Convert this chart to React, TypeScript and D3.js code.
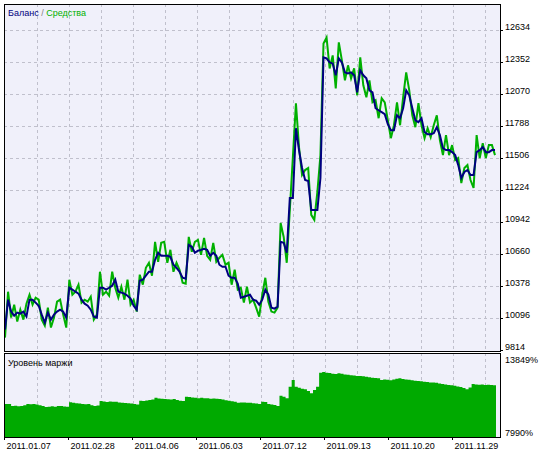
import React from "react";
import * as d3 from "d3";

const balance = [
  9998, 10262, 10157, 10121, 10148, 10139, 10157, 10113, 10262, 10262,
  10236, 10209, 10130, 10060, 10148, 10086, 10130, 10157, 10174, 10157,
  10104, 10367, 10350, 10332, 10315, 10262, 10227, 10209, 10174, 10113,
  10104, 10367, 10367, 10350, 10367, 10385, 10438, 10332, 10324, 10315,
  10297, 10271, 10209, 10174, 10429, 10438, 10473, 10508, 10508, 10613,
  10675, 10649, 10649, 10649, 10640, 10570, 10543, 10508, 10455, 10447,
  10745, 10728, 10675, 10693, 10701, 10710, 10701, 10649, 10675, 10649,
  10570, 10552, 10552, 10473, 10455, 10455, 10403, 10280, 10288, 10297,
  10306, 10262, 10253, 10218, 10262, 10350, 10306, 10192, 10183, 10201,
  10772, 10763, 10675, 11158, 11158, 11773, 11580, 11422, 11316, 11307,
  11053, 11053, 11053, 11334, 12397, 12388, 12353, 12344, 12239, 12388,
  12353, 12265, 12256, 12265, 12239, 12089, 12283, 12239, 12212, 12107,
  12089, 11949, 11931, 11914, 11896, 11808, 11755, 11755, 11887, 11861,
  11949, 12107, 12063, 11949, 11843, 11826, 11861, 11738, 11720, 11720,
  11729, 11782, 11712, 11597, 11580, 11580, 11562, 11536, 11448, 11334,
  11387, 11404, 11360, 11360, 11562, 11580, 11606, 11562, 11562, 11580,
  11580,
];

const equity = [
  9928, 10332, 10104, 10218, 10069, 10174, 10086, 10227, 10306, 10218,
  10280, 10262, 10086, 10034, 10192, 10016, 10104, 10244, 10262, 10130,
  10016, 10438, 10306, 10332, 10394, 10236, 10262, 10244, 10288, 10086,
  10130, 10508, 10306, 10332, 10297, 10508, 10367, 10280, 10376, 10262,
  10438, 10218, 10262, 10157, 10482, 10394, 10543, 10587, 10473, 10772,
  10596, 10763, 10772, 10587, 10701, 10508, 10587, 10526, 10411, 10403,
  10815, 10684, 10772, 10789, 10657, 10807, 10649, 10613, 10763, 10596,
  10631, 10657, 10570, 10587, 10394, 10526, 10350, 10367, 10236, 10376,
  10236, 10262, 10192, 10113, 10306, 10455, 10244, 10157, 10148, 10192,
  10938, 10815, 10587, 11053, 11518, 11993, 11606, 11360, 11404, 11422,
  11009, 10965, 11211, 11536, 12520, 12572, 12300, 12414, 12124, 12529,
  12370, 12195, 12327, 12212, 12300, 12063, 12397, 12151, 12045, 12195,
  12001, 12019, 11861, 12037, 12001, 11843, 11685, 11799, 12001, 11799,
  12045, 12265, 12107, 11887, 11782, 11993, 11799, 11685, 11773, 11694,
  11799, 11887, 11668, 11536, 11712, 11536, 11624, 11492, 11510, 11290,
  11422, 11448, 11316, 11246, 11712, 11510, 11641, 11510, 11624, 11624,
  11536,
];

const marginLevel = [
  10292, 10292, 10152, 10170, 10130, 10152, 10200, 10292, 10270, 10292,
  10250, 10200, 10152, 10080, 10103, 10130, 10100, 10152, 10152, 10120,
  10103, 10410, 10380, 10350, 10330, 10300, 10270, 10292, 10200, 10152,
  10180, 10501, 10470, 10430, 10470, 10452, 10452, 10400, 10380, 10360,
  10341, 10320, 10292, 10250, 10522, 10500, 10540, 10571, 10600, 10731,
  10680, 10650, 10641, 10620, 10600, 10641, 10570, 10522, 10500, 10801,
  10780, 10750, 10731, 10700, 10720, 10700, 10689, 10650, 10680, 10660,
  10641, 10600, 10560, 10522, 10480, 10450, 10382, 10400, 10400, 10382,
  10382, 10350, 10330, 10292, 10452, 10430, 10300, 10250, 10222, 10152,
  10871, 10800, 10689, 11498, 11966, 11498, 11420, 11360, 11317, 11200,
  11038, 11268, 11498, 12475, 12520, 12480, 12450, 12400, 12380, 12433,
  12400, 12350, 12330, 12300, 12280, 12250, 12245, 12220, 12200, 12150,
  12120, 12100, 12080, 11966, 12000, 11990, 11950, 12000, 12050, 12084,
  12030, 12000, 11980, 11950, 11917, 11900, 11880, 11850, 11820, 11800,
  11790, 11777, 11720, 11680, 11650, 11617, 11600, 11560, 11520, 11480,
  11400, 11317, 11450, 11687, 11660, 11640, 11660, 11620, 11630, 11617,
  11600,
];

const valueTicks = [9814, 10096, 10378, 10660, 10942, 11224, 11506, 11788, 12070, 12352, 12634];
const marginTicks = [7990, 13849];
const dateLabels = [
  "2011.01.07", "2011.02.28", "2011.04.06", "2011.06.03",
  "2011.07.12", "2011.09.13", "2011.10.20", "2011.11.29",
];

const W = 545;
const H = 454;
const L = 4;
const R = 500;
const mainTop = 4;
const mainBottom = 351;
const subTop = 353;
const subBottom = 437;
const gridStep = 32;
const dataLeft = 5;
const dataRight = 495;

const BG = "#F0F0FA";
const GRID = "#C0C0CC";
const NAVY = "#000080";
const GREEN = "#00B000";
const BAR = "#00AA00";
const FONT = "'Liberation Sans', Arial, sans-serif";

export default function App() {
  const n = balance.length;
  const x = d3.scaleLinear().domain([0, n - 1]).range([dataLeft, dataRight]);
  const y = d3.scaleLinear().domain([valueTicks[0], valueTicks[valueTicks.length - 1]]).range([350.5, 30.5]);
  const ym = d3.scaleLinear().domain([marginTicks[0], marginTicks[1]]).range([subBottom, subTop]);

  const line = d3.line<number>().x((_, i) => x(i)).y((d) => y(d));
  const area = d3
    .area<number>()
    .x((_, i) => x(i))
    .y0(subBottom)
    .y1((d) => ym(d))
    .curve(d3.curveStepAfter);
  const barsData = [...marginLevel, marginLevel[marginLevel.length - 1]];
  const areaX = d3.scaleLinear().domain([0, n]).range([dataLeft, dataRight + 1]);
  const area2 = area.x((_, i) => areaX(i));

  const vGrid = d3.range(1, 15 + 1).map((k) => L + 1 + k * gridStep);
  const dateX = dateLabels.map((_, k) => L + 0.5 + k * 2 * gridStep);

  return (
    <svg
      width={W}
      height={H}
      style={{ position: "absolute", left: 0, top: 0, background: "#fff" }}
      fontFamily={FONT}
    >
      <defs>
        <clipPath id="mainClip">
          <rect x={L + 1} y={mainTop + 1} width={R - L - 1} height={mainBottom - mainTop - 1} />
        </clipPath>
        <clipPath id="subClip">
          <rect x={L + 1} y={subTop + 1} width={R - L - 1} height={subBottom - subTop - 1} />
        </clipPath>
      </defs>
      <rect x={0} y={0} width={W} height={H} fill="#fff" />
      <rect x={L} y={mainTop} width={R - L} height={mainBottom - mainTop} fill={BG} />
      <rect x={L} y={subTop} width={R - L} height={subBottom - subTop} fill={BG} />

      {vGrid.map((gx, k) => (
        <g key={"vg" + k}>
          <line x1={gx + 0.5} x2={gx + 0.5} y1={mainTop} y2={mainBottom} stroke={GRID} strokeDasharray="3,3" />
          <line x1={gx + 0.5} x2={gx + 0.5} y1={subTop} y2={subBottom} stroke={GRID} strokeDasharray="3,3" />
        </g>
      ))}
      {valueTicks.slice(1).map((v) => (
        <line key={"hg" + v} x1={L} x2={R} y1={y(v)} y2={y(v)} stroke={GRID} strokeDasharray="3,3" />
      ))}

      <g clipPath="url(#subClip)">
        <path d={area2(barsData) || ""} fill={BAR} />
      </g>

      <g clipPath="url(#mainClip)">
        <path d={line(equity) || ""} fill="none" stroke={GREEN} strokeWidth={2} strokeLinejoin="miter" />
        <path d={line(balance) || ""} fill="none" stroke={NAVY} strokeWidth={2} strokeLinejoin="miter" />
      </g>

      <rect x={L + 0.5} y={mainTop + 0.5} width={R - L} height={mainBottom - mainTop} fill="none" stroke="#000" />
      <rect x={L + 0.5} y={subTop + 0.5} width={R - L} height={subBottom - subTop} fill="none" stroke="#000" />

      {valueTicks.map((v) => (
        <g key={"yl" + v}>
          <line x1={R + 1} x2={R + 3} y1={y(v)} y2={y(v)} stroke="#000" />
          <text x={R + 5} y={y(v) - 1} fontSize={9} fill="#000">
            {v}
          </text>
        </g>
      ))}
      <text x={R + 5} y={subTop + 9.5} fontSize={9} fill="#000">{marginTicks[1] + "%"}</text>
      <text x={R + 5} y={subBottom - 1.5} fontSize={9} fill="#000">{marginTicks[0] + "%"}</text>

      {dateLabels.map((d, k) => (
        <g key={d}>
          <line x1={dateX[k]} x2={dateX[k]} y1={subBottom} y2={subBottom + 3} stroke="#000" />
          <text x={dateX[k] + 2} y={449} fontSize={9} fill="#000">
            {d}
          </text>
        </g>
      ))}

      <text x={8} y={16} fontSize={9}>
        <tspan fill={NAVY}>Баланс</tspan>
        <tspan fill="#808080"> / </tspan>
        <tspan fill={GREEN}>Средства</tspan>
      </text>
      <text x={8} y={365.5} fontSize={9} fill="#000">
        Уровень маржи
      </text>
    </svg>
  );
}
